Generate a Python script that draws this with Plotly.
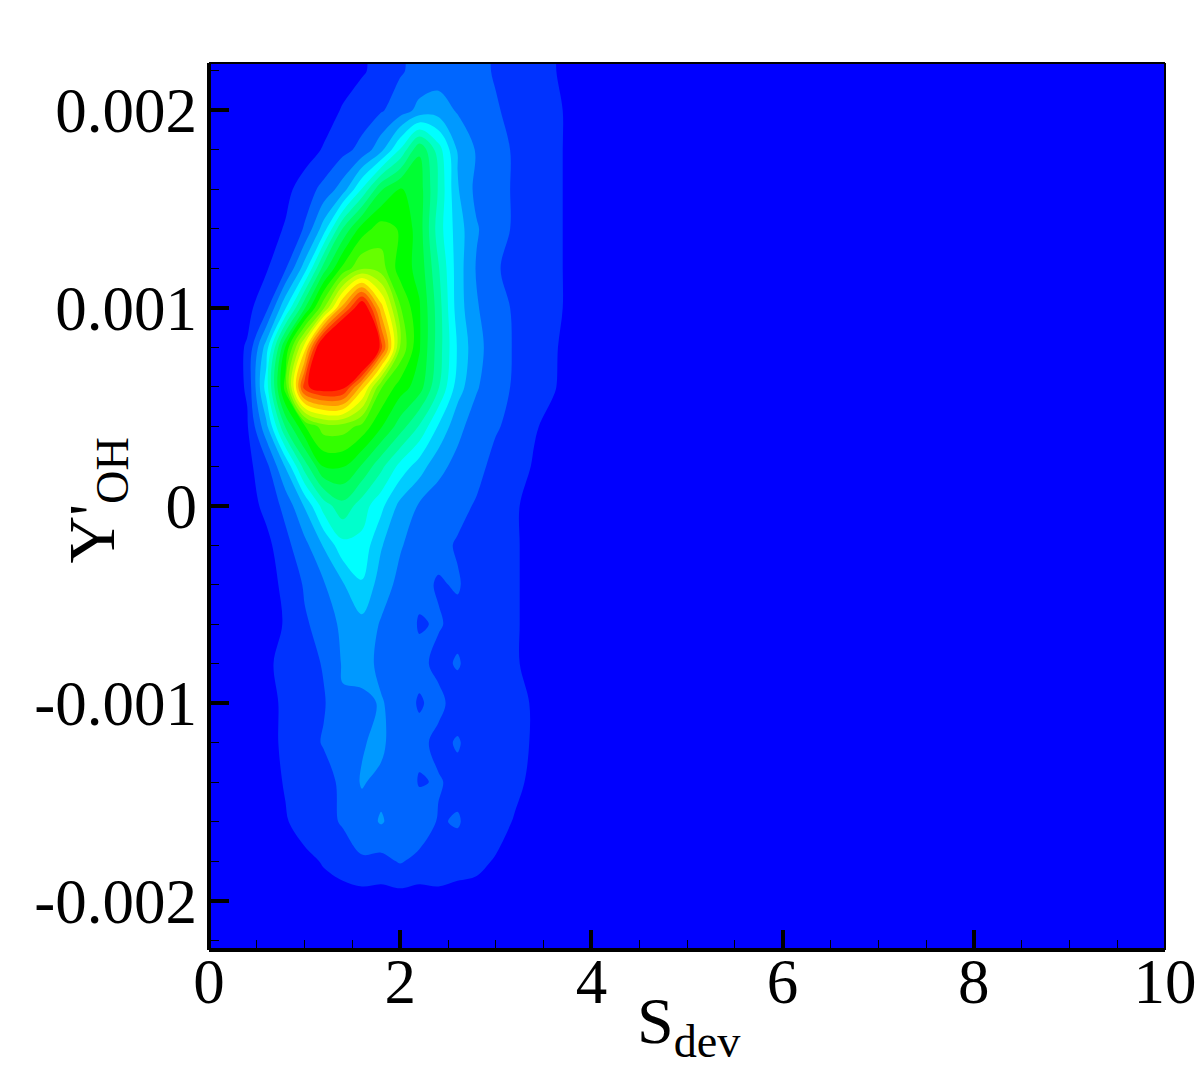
import plotly.graph_objects as go

# S_dev columns and Y'_OH rows of the density map
s_dev = [0, 0.2, 0.4, 0.6, 0.8, 1.0, 1.2, 1.4, 1.6, 1.8, 2.0, 2.2, 2.4, 2.6, 2.8, 3.0, 3.2, 3.4, 3.6, 3.8, 4.0, 10]
y_oh = [-0.0023, -0.0020, -0.0018, -0.0016, -0.0014, -0.0012, -0.0010, -0.0008, -0.0006, -0.0004, -0.0002,
        0, 0.0002, 0.0004, 0.0006, 0.0008, 0.0010, 0.0012, 0.0014, 0.0016, 0.0018, 0.0020, 0.0022, 0.0023]

density = [
    [0, 0, 0, 0, 0, 0, 0, 0, 0, 0, 0, 0, 0, 0, 0, 0, 0, 0, 0, 0, 0, 0],
    [0, 0, 0, 0, 0, 0, 0, 0, 0, 0, 0, 0, 0, 0, 0, 0, 0, 0, 0, 0, 0, 0],
    [0, 0, 0, 0, 0, 1, 3, 5, 7, 6, 8, 6, 7, 5, 4, 2, 0, 0, 0, 0, 0, 0],
    [0, 0, 0, 0, 2, 5, 6, 8, 10, 13, 10, 11, 7, 8, 5, 5, 2, 0, 0, 0, 0, 0],
    [0, 0, 0, 0, 3, 6, 5, 9, 13, 11, 12, 7, 8, 6, 7, 4, 4, 1, 0, 0, 0, 0],
    [0, 0, 0, 0, 4, 5, 8, 10, 12, 14, 8, 9, 6, 8, 5, 6, 4, 2, 0, 0, 0, 0],
    [0, 0, 0, 0, 4, 6, 7, 12, 11, 13, 10, 7, 9, 5, 7, 5, 4, 2, 0, 0, 0, 0],
    [0, 0, 0, 1, 5, 5, 8, 13, 15, 11, 9, 9, 6, 8, 5, 6, 3, 1, 0, 0, 0, 0],
    [0, 0, 0, 0, 3, 7, 9, 14, 16, 12, 11, 7, 8, 6, 6, 4, 3, 1, 0, 0, 0, 0],
    [0, 0, 0, 0, 4, 8, 12, 17, 22, 15, 11, 9, 7, 8, 5, 5, 3, 1, 0, 0, 0, 0],
    [0, 0, 0, 1, 6, 11, 18, 26, 26, 18, 13, 10, 9, 7, 7, 5, 3, 1, 0, 0, 0, 0],
    [0, 0, 0, 4, 9, 18, 30, 36, 30, 24, 16, 12, 10, 9, 7, 6, 3, 1, 0, 0, 0, 0],
    [0, 0, 1, 6, 18, 35, 48, 48, 42, 34, 26, 20, 14, 11, 9, 6, 5, 2, 0, 0, 0, 0],
    [0, 0, 2, 16, 38, 52, 60, 60, 56, 48, 40, 32, 22, 14, 10, 8, 6, 3, 1, 0, 0, 0],
    [0, 0, 3, 25, 55, 96, 102, 100, 80, 58, 50, 45, 33, 20, 13, 9, 7, 5, 3, 0, 0, 0],
    [0, 0, 3, 20, 48, 75, 110, 130, 125, 95, 62, 48, 35, 22, 14, 10, 7, 5, 3, 1, 0, 0],
    [0, 0, 1, 6, 22, 42, 62, 85, 105, 80, 58, 48, 35, 20, 13, 9, 7, 5, 4, 1, 0, 0],
    [0, 0, 0, 2, 7, 20, 40, 54, 62, 60, 50, 46, 33, 20, 12, 8, 6, 5, 4, 1, 0, 0],
    [0, 0, 0, 0, 3, 8, 20, 38, 50, 55, 52, 45, 30, 20, 13, 9, 7, 5, 4, 1, 0, 0],
    [0, 0, 0, 0, 1, 5, 9, 15, 28, 42, 48, 45, 32, 18, 11, 9, 7, 5, 4, 1, 0, 0],
    [0, 0, 0, 0, 0, 0, 3, 6, 9, 16, 28, 42, 30, 17, 12, 9, 7, 5, 4, 1, 0, 0],
    [0, 0, 0, 0, 0, 0, 0, 3, 5, 7, 10, 14, 15, 12, 10, 8, 6, 5, 4, 1, 0, 0],
    [0, 0, 0, 0, 0, 0, 0, 0, 2, 4, 7, 9, 10, 10, 9, 7, 6, 5, 3, 0, 0, 0],
    [0, 0, 0, 0, 0, 0, 0, 0, 2, 4, 7, 9, 10, 10, 9, 7, 6, 5, 3, 0, 0, 0],
]

x_ticks = [0, 2, 4, 6, 8, 10]
y_ticks = [-0.002, -0.001, 0, 0.001, 0.002]
y_labels = ['-0.002', '-0.001', '0', '0.001', '0.002']

flood = [[0, 'rgb(0,0,255)'], [0.25, 'rgb(0,255,255)'], [0.5, 'rgb(0,255,0)'],
         [0.75, 'rgb(255,255,0)'], [1, 'rgb(255,0,0)']]

fig = go.Figure(
    data=[
        go.Contour(
            x=s_dev,
            y=y_oh,
            z=density,
            zmin=0,
            zmax=100,
            colorscale=flood,
            showscale=False,
            line={'width': 0},
            contours={'coloring': 'fill', 'start': 2.5, 'end': 97.5, 'size': 5},
        )
    ]
)

font = {'family': 'Liberation Serif', 'color': 'black', 'size': 63}

fig.update_layout(
    width=1200,
    height=1066,
    autosize=False,
    margin=dict(l=209, r=35, t=63, b=116),
    paper_bgcolor='white',
    plot_bgcolor='rgb(0,0,255)',
    font=font,
    xaxis={
        'range': [0, 10],
        'automargin': False,
        'tickmode': 'array',
        'tickvals': x_ticks,
        'ticktext': [str(t) for t in x_ticks],
        'ticks': 'inside',
        'ticklen': 20,
        'tickwidth': 4,
        'tickcolor': 'black',
        'ticklabelstandoff': -11,
        'minor': {'dtick': 0.5, 'ticks': 'inside', 'ticklen': 10, 'tickwidth': 1, 'tickcolor': 'black'},
        'showgrid': False,
        'zeroline': False,
        'showline': False,
    },
    yaxis={
        'range': [-0.00225, 0.00224],
        'automargin': False,
        'tickmode': 'array',
        'tickvals': y_ticks,
        'ticktext': y_labels,
        'ticks': 'inside',
        'ticklen': 20,
        'tickwidth': 4,
        'tickcolor': 'black',
        'ticklabelstandoff': 11,
        'minor': {'dtick': 0.0002, 'tick0': 0, 'ticks': 'inside', 'ticklen': 10, 'tickwidth': 1, 'tickcolor': 'black'},
        'showgrid': False,
        'zeroline': False,
        'showline': False,
    },
    annotations=[
        dict(text='S<sub>dev</sub>', xref='paper', yref='paper', x=0.502, y=-0.085, showarrow=False,
             xanchor='center', yanchor='middle', font={'size': 66}),
        dict(text="Y'<sub>OH</sub>", xref='paper', yref='paper', x=-0.118, y=0.507, showarrow=False,
             xanchor='center', yanchor='middle', textangle=-90, font={'size': 66}),
    ],
    shapes=[
        dict(type='line', xref='paper', yref='paper', x0=0, x1=1, y0=1, y1=1, line={'color': 'black', 'width': 2}),
        dict(type='line', xref='paper', yref='paper', x0=1, x1=1, y0=0, y1=1, line={'color': 'black', 'width': 2}),
        dict(type='line', xref='paper', yref='paper', x0=0, x1=0, y0=0, y1=1, line={'color': 'black', 'width': 4}),
        dict(type='line', xref='paper', yref='paper', x0=0, x1=1, y0=0, y1=0, line={'color': 'black', 'width': 4}),
    ],
)

fig.write_html("out.html", post_script="document.body.style.margin='0';", config={'displayModeBar': False})
